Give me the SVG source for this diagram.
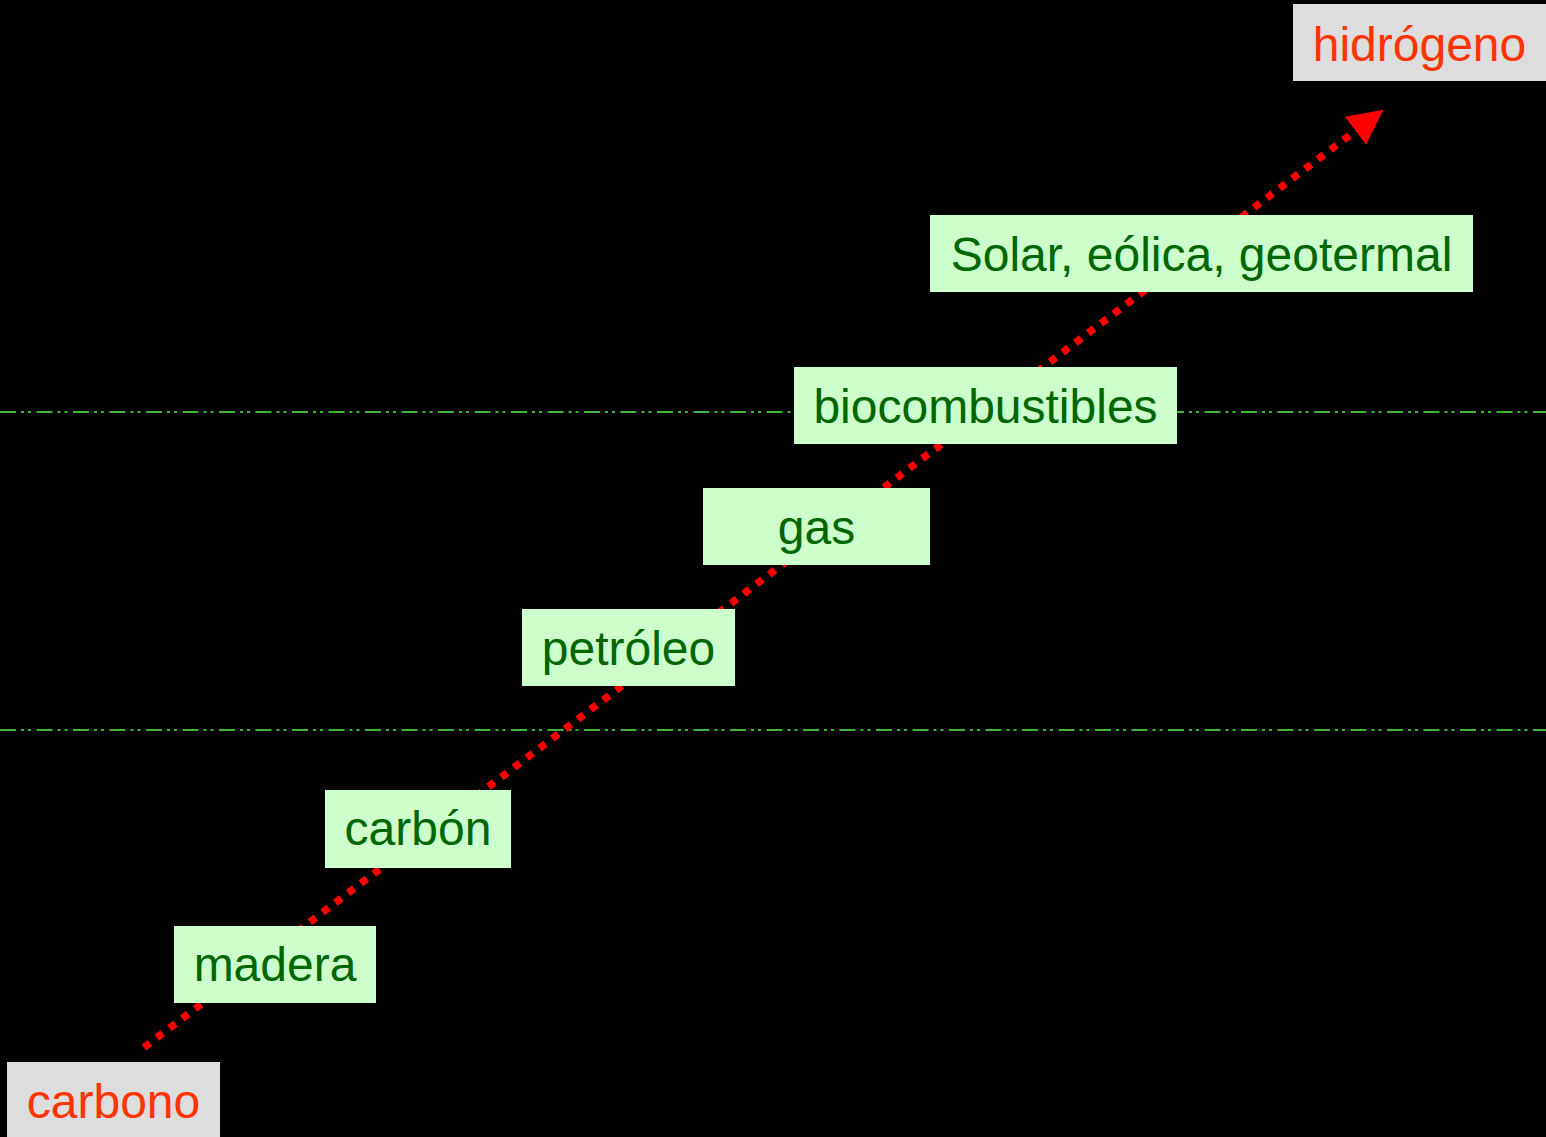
<svg xmlns="http://www.w3.org/2000/svg" width="1546" height="1137" viewBox="0 0 1546 1137">
<style>
.bg{fill:#000000}
.sep{stroke:#3cb43c;stroke-width:2;fill:none;stroke-dasharray:16 5 3 4 3 5.5}
.flow{stroke:#ff0000;stroke-width:7.5;fill:none;stroke-dasharray:7.5 8.5}
.g rect{fill:#ccffcc}
.g text{fill:#006600;font-family:"Liberation Sans",Arial,sans-serif;font-size:48px;text-anchor:middle}
.e rect{fill:#dddddd}
.e text{fill:#ff3300;font-family:"Liberation Sans",Arial,sans-serif;font-size:48px;text-anchor:middle}
</style>
<defs>
<marker id="head" markerUnits="userSpaceOnUse" markerWidth="36" markerHeight="36" refX="0" refY="17.5" orient="auto" viewBox="0 0 36 36">
<path d="M0,0 L35,17.5 L0,35 z" fill="#ff0000"/>
</marker>
</defs>
<rect class="bg" x="0" y="0" width="1546" height="1137"/>
<g id="connectors">
<line class="sep" x1="0" y1="412" x2="1546" y2="412"/>
<line class="sep" x1="0" y1="730" x2="1546" y2="730"/>
<line class="flow" x1="144" y1="1047.5" x2="1355.5" y2="130.8" marker-end="url(#head)"/>
</g>
<g id="hidrogeno" class="e"><rect x="1293" y="4" width="253" height="77"/><text x="1419.5" y="61">hidrógeno</text></g>
<g id="solar" class="g"><rect x="930" y="215" width="543" height="77"/><text x="1201.5" y="271">Solar, eólica, geotermal</text></g>
<g id="biocombustibles" class="g"><rect x="794" y="367" width="383" height="77"/><text x="985.5" y="423">biocombustibles</text></g>
<g id="gas" class="g"><rect x="703" y="488" width="227" height="77"/><text x="816.5" y="543.5">gas</text></g>
<g id="petroleo" class="g"><rect x="522" y="609" width="213" height="77"/><text x="628.5" y="665">petróleo</text></g>
<g id="carbon" class="g"><rect x="325" y="790" width="186" height="78"/><text x="418" y="845">carbón</text></g>
<g id="madera" class="g"><rect x="174" y="926" width="202" height="77"/><text x="275" y="981">madera</text></g>
<g id="carbono" class="e"><rect x="7" y="1062" width="213" height="77"/><text x="113.5" y="1118">carbono</text></g>
</svg>
